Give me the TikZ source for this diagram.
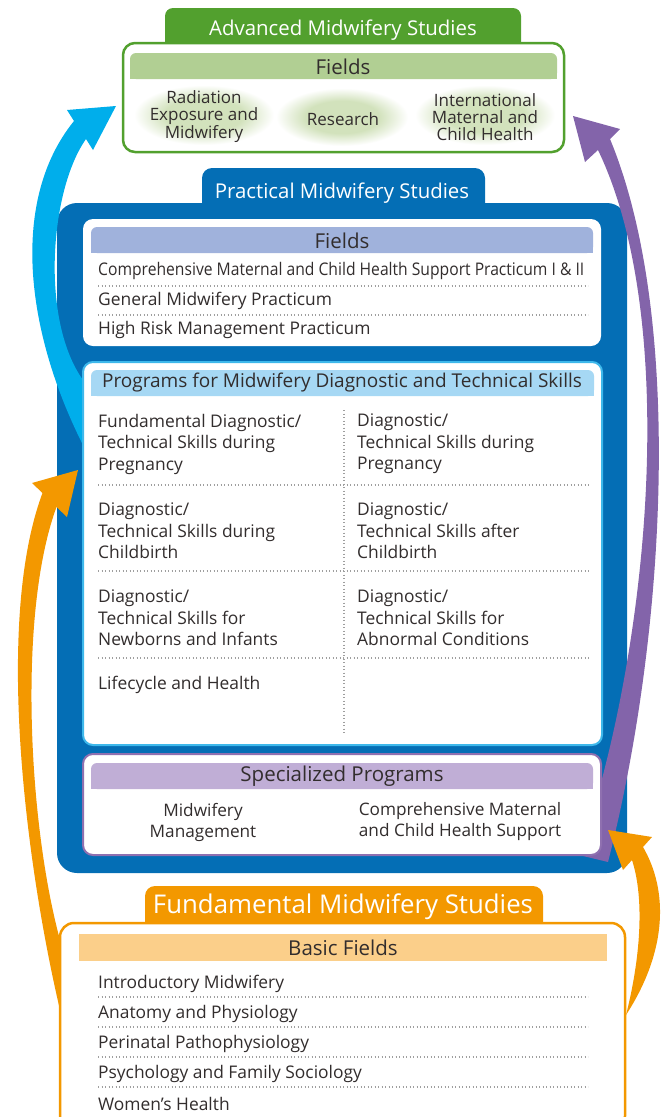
\documentclass[tikz,border=0pt]{standalone}
\usepackage{fontspec}
\setmainfont{Open Sans}
\usepackage{graphicx}
\usepackage{tikz}
\definecolor{advgreen}{RGB}{82,160,46}
\definecolor{advbar}{RGB}{177,207,147}
\definecolor{glowgreen}{RGB}{210,226,188}
\definecolor{pracblue}{RGB}{4,110,181}
\definecolor{pracbar}{RGB}{160,178,220}
\definecolor{progline}{RGB}{62,184,235}
\definecolor{progbar}{RGB}{166,216,244}
\definecolor{specline}{RGB}{143,112,176}
\definecolor{specbar}{RGB}{192,174,214}
\definecolor{fundorange}{RGB}{243,152,0}
\definecolor{fundbar}{RGB}{251,207,138}
\definecolor{arrcyan}{RGB}{0,174,235}
\definecolor{arrpurple}{RGB}{131,100,170}
\definecolor{ink}{RGB}{50,45,45}
\pgfdeclareradialshading{glow}{\pgfpoint{0bp}{0bp}}{color(0bp)=(glowgreen); color(14bp)=(glowgreen); color(25bp)=(white); color(50bp)=(white)}

\begin{document}
\begin{tikzpicture}[x=1pt, y=-1pt,
    tabtext/.style={text=white, yshift=-3pt, font=\fontsize{20.4}{22}\selectfont},
    bartext/.style={text=ink, yshift=-1pt, font=\fontsize{20.5}{22}\selectfont},
    item/.style={anchor=west, inner sep=0pt, yshift=-2pt, text=ink, align=left, font=\fontsize{17.4}{21.5}\selectfont},
    pair/.style={inner sep=0pt, yshift=-1pt, text=ink, align=center, font=\fontsize{17.2}{21}\selectfont},
    glowtext/.style={inner sep=0pt, yshift=-3pt, text=ink, align=center, font=\fontsize{17}{17}\selectfont},
    dotline/.style={gray!75, line width=1.1pt, dash pattern=on 1.1pt off 2.4pt}
]
\clip (0,0) rectangle (665,1117);

% advanced studies
\fill[advgreen, rounded corners=8pt] (165,8) rectangle (521,60);
\draw[advgreen, line width=2.5pt, fill=white, rounded corners=12pt] (123,43) rectangle (564,152);
\fill[advbar, rounded corners=6pt] (130,53) rectangle (557,79);
\fill[advbar] (130,66) rectangle (557,79);
\shade[shading=glow] (204,115) ellipse [x radius=70pt, y radius=30pt];
\shade[shading=glow] (342,117) ellipse [x radius=66pt, y radius=29pt];
\shade[shading=glow] (485,115) ellipse [x radius=70pt, y radius=30pt];
\node[tabtext] (advtitle) at (343,27) {Advanced Midwifery Studies};
\node[bartext] (advfields) at (343,66) {Fields};
\node[glowtext] (radiation) at (204,114) {Radiation\\Exposure and\\Midwifery};
\node[glowtext] (research) at (343,116) {Research};
\node[glowtext] (intlhealth) at (485,114) {International\\Maternal and\\Child Health};

% practical studies
\fill[pracblue, rounded corners=10pt] (202,168) rectangle (485,225);
\fill[pracblue, rounded corners=20pt] (57,203) rectangle (627,873);
\node[tabtext] (practitle) at (342,190) {Practical Midwifery Studies};

\fill[arrcyan] (83,445) .. controls (25,330) and (10,200) .. (74,121) -- (67,110) -- (116,106) -- (93,150) -- (86,139) .. controls (50,190) and (40,320) .. (83,380) -- cycle;
\fill[arrpurple] (579,855) -- (608,862) .. controls (665,640) and (685,320) .. (610,139) -- (620,129) -- (573,116) -- (585,162) -- (598,150) .. controls (680,320) and (650,650) .. (579,855) -- cycle;

\fill[white, rounded corners=10pt] (83,219) rectangle (601,346);
\fill[pracbar, rounded corners=6pt] (91,227) rectangle (593,253);
\fill[pracbar] (91,240) rectangle (593,253);
\node[bartext] (pracfields) at (342,240) {Fields};
\node[item] (practicum1) at (98,269) {\scalebox{0.9}[1]{Comprehensive Maternal and Child Health Support Practicum I \& II}};
\draw[dotline] (98,286) -- (588,286);
\node[item] (practicum2) at (98,299) {General Midwifery Practicum};
\draw[dotline] (98,315) -- (588,315);
\node[item] (practicum3) at (98,328) {High Risk Management Practicum};

\draw[progline, line width=2pt, fill=white, rounded corners=10pt] (83,362) rectangle (602,745);
\fill[progbar, rounded corners=6pt] (91,370) rectangle (594,396);
\fill[progbar] (91,383) rectangle (594,396);
\node[bartext, font=\fontsize{19}{21}\selectfont] (progtitle) at (342,382) {Programs for Midwifery Diagnostic and Technical Skills};
\draw[dotline] (344,410) -- (344,733);
\draw[dotline] (98,485) -- (590,485);
\draw[dotline] (98,571) -- (590,571);
\draw[dotline] (98,658) -- (590,658);
\node[item] (fundskills) at (98,442) {Fundamental Diagnostic/\\Technical Skills during\\Pregnancy};
\node[item] (pregskills) at (357,442) {Diagnostic/\\Technical Skills during\\Pregnancy};
\node[item] (birthskills) at (98,529) {Diagnostic/\\Technical Skills during\\Childbirth};
\node[item] (afterskills) at (357,529) {Diagnostic/\\Technical Skills after\\Childbirth};
\node[item] (infantskills) at (98,616) {Diagnostic/\\Technical Skills for\\Newborns and Infants};
\node[item] (abnormskills) at (357,616) {Diagnostic/\\Technical Skills for\\Abnormal Conditions};
\node[item] (lifecycle) at (98,683) {Lifecycle and Health};

\draw[specline, line width=2pt, fill=white, rounded corners=10pt] (83,754) rectangle (601,855);
\fill[specbar, rounded corners=6pt] (91,763) rectangle (593,789);
\fill[specbar] (91,776) rectangle (593,789);
\node[bartext] (spectitle) at (342,775) {Specialized Programs};
\node[pair] (management) at (203,821) {Midwifery\\Management};
\node[pair] (support) at (460,821) {Comprehensive Maternal\\and Child Health Support};

% fundamental studies
\fill[fundorange] (60,1010) .. controls (25,860) and (-5,620) .. (42.5,493) -- (32,483) -- (78,470) -- (67,517) -- (56.5,507) .. controls (15,620) and (30,850) .. (66,960) -- cycle;
\fill[fundorange] (626,1015) .. controls (668,950) and (668,890) .. (643,847) -- (652,837) -- (608,830) -- (623,870) -- (632,860) .. controls (645,900) and (640,960) .. (626,1015) -- cycle;

\fill[fundorange, rounded corners=10pt] (145,886) rectangle (543,940);
\draw[fundorange, line width=2.5pt, fill=white, rounded corners=14pt] (60,923) rectangle (625,1130);
\fill[fundbar] (79,934) rectangle (607,961);
\node[tabtext, font=\fontsize{25.8}{28}\selectfont] (fundtitle) at (343,904) {Fundamental Midwifery Studies};
\node[bartext] (basicfields) at (343,947) {Basic Fields};
\node[item] (introductory) at (98,982) {Introductory Midwifery};
\draw[dotline] (98,997) -- (588,997);
\node[item] (anatomy) at (98,1012) {Anatomy and Physiology};
\draw[dotline] (98,1027) -- (588,1027);
\node[item] (perinatal) at (98,1042) {Perinatal Pathophysiology};
\draw[dotline] (98,1057) -- (588,1057);
\node[item] (psychology) at (98,1072) {Psychology and Family Sociology};
\draw[dotline] (98,1087) -- (588,1087);
\node[item] (womens) at (98,1102) {Women’s Health};
\end{tikzpicture}
\end{document}
